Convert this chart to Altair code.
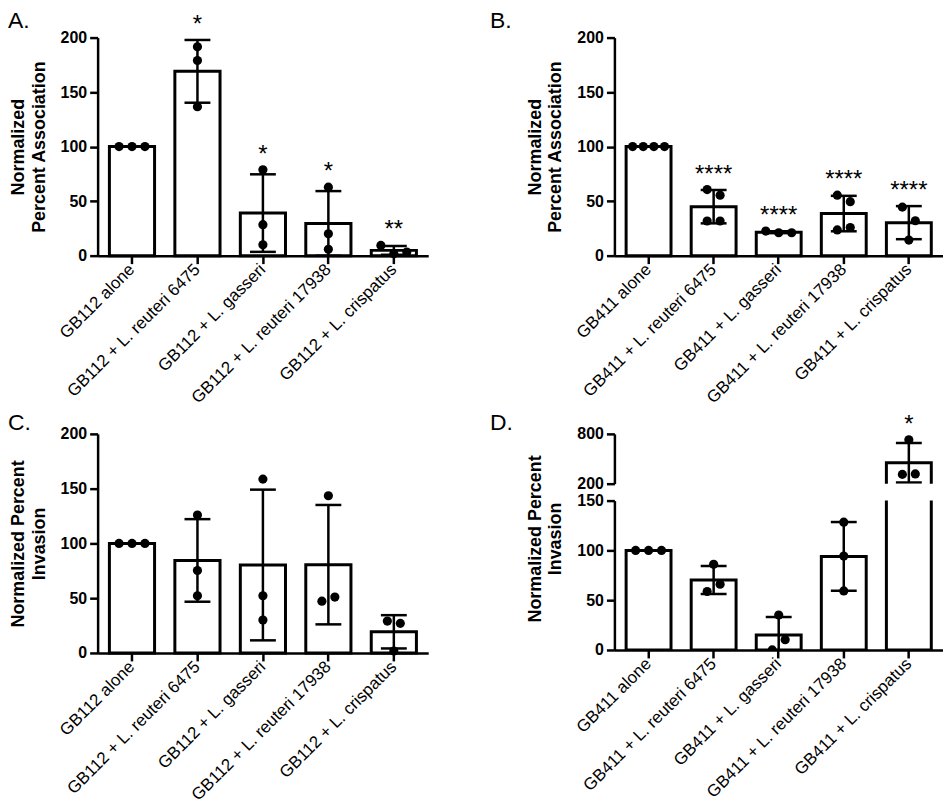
import altair as alt
import pandas as pd

# ---------------- data ----------------
cats_112 = ["GB112 alone", "GB112 + L. reuteri 6475", "GB112 + L. gasseri",
            "GB112 + L. reuteri 17938", "GB112 + L. crispatus"]
cats_411 = ["GB411 alone", "GB411 + L. reuteri 6475", "GB411 + L. gasseri",
            "GB411 + L. reuteri 17938", "GB411 + L. crispatus"]

a_vals = [[100, 100, 100], [191.5, 179, 136.6], [78.7, 28.4, 10], [62.8, 20, 5.8], [9.4, 1.8, 3.3]]
b_vals = [[100, 100, 100, 100], [60.6, 55.5, 31.8, 31.8], [22.5, 21, 21], [55.5, 49.5, 23.6, 25.8], [44.5, 32, 14.3]]
c_vals = [[100, 100, 100], [125.9, 75.3, 52.2], [158.7, 52.2, 30], [143.5, 47.3, 51], [29.1, 27, 1.8]]
d_vals = [[100, 100, 100], [86, 58.7, 66], [35, 0, 10.3], [128.3, 94.3, 59.3], [728, 312, 318]]

a_stars = ["", "*", "*", "*", "**"]
b_stars = ["", "****", "****", "****", "****"]
c_stars = ["", "", "", "", ""]
d_stars = ["", "", "", "", "*"]

FONT = "Liberation Sans"
DOT_GAP = 13  # px between neighbouring dots


def dot_offsets(vals, thresh):
    """spread overlapping dots sideways (in dot-spacing units)"""
    n = len(vals)
    order = sorted(range(n), key=lambda i: vals[i])
    clusters, cur = [], [order[0]]
    for i in order[1:]:
        if vals[i] - vals[cur[-1]] < thresh:
            cur.append(i)
        else:
            clusters.append(cur)
            cur = [i]
    clusters.append(cur)
    off = [0.0] * n
    for cl in clusters:
        cl = sorted(cl)
        k = len(cl)
        g = 1.0 if k <= 3 else 0.82
        for j, i in enumerate(cl):
            off[i] = round((j - (k - 1) / 2) * g, 3)
    return off


def make_df(cats, vals, stars, thresh):
    rows = []
    for c, vs, s in zip(cats, vals, stars):
        for v, o in zip(vs, dot_offsets(vs, thresh)):
            rows.append({"cat": c, "v": v, "off": o, "star": s})
    return pd.DataFrame(rows)


def layers(df, cats, ydom, yticks, height, width, ytitle, letter, lx, ly,
           show_x=True, clip=False, title_y=None, show_stars=True):
    xscale = alt.Scale(domain=cats, paddingInner=0.31, paddingOuter=0.18)
    if show_x:
        xaxis = alt.Axis(title=None, labelAngle=315, labelAlign="right", labelBaseline="middle",
                         labelFontSize=17, labelFont=FONT, labelColor="black", labelPadding=3,
                         tickSize=8, tickWidth=2.5, tickColor="black",
                         domainWidth=2.5, domainColor="black", labelLimit=400)
    else:
        xaxis = None
    x = alt.X("cat:N", sort=cats, scale=xscale, axis=xaxis)
    yaxis_kw = dict(values=yticks, grid=False, labelFontSize=16, labelFontWeight="bold",
                    labelFont=FONT, labelColor="black", labelPadding=3,
                    tickSize=8, tickWidth=2.5, tickColor="black",
                    domainWidth=2.5, domainColor="black",
                    titleFontSize=18, titleFontWeight="bold", titleFont=FONT,
                    titleColor="black", titlePadding=12, titleLineHeight=21)
    if title_y is not None:
        yaxis_kw["titleY"] = title_y
    ttl = ytitle if ytitle else None
    yaxis = alt.Axis(title=ttl, **yaxis_kw)
    yscale = alt.Scale(domain=ydom, nice=False, zero=False)

    base = alt.Chart(df)
    bars = base.mark_bar(fill="white", stroke="black", strokeWidth=3, clip=clip).encode(
        x=x, y=alt.Y("mean(v):Q", scale=yscale, axis=yaxis), y2=alt.datum(0))

    stats = base.transform_aggregate(
        m="mean(v)", s="stdev(v)", mx="max(v)", groupby=["cat", "star"]
    ).transform_calculate(lo="datum.m - datum.s", hi="datum.m + datum.s",
                          top="max(datum.m + datum.s, datum.mx)")
    rule = stats.mark_rule(color="black", strokeWidth=2.5, clip=clip).encode(
        x=x, y=alt.Y("lo:Q", scale=yscale, title=ttl), y2="hi:Q")
    tick_hi = stats.mark_tick(color="black", size=26, thickness=2.5, clip=clip, opacity=1).encode(
        x=x, y=alt.Y("hi:Q", scale=yscale, title=ttl))
    tick_lo = stats.mark_tick(color="black", size=26, thickness=2.5, clip=clip, opacity=1).encode(
        x=x, y=alt.Y("lo:Q", scale=yscale, title=ttl))
    parts = [bars, rule, tick_hi, tick_lo]

    for o in sorted(df["off"].unique()):
        parts.append(
            base.transform_filter(f"datum.off == {o}").mark_circle(
                size=85, color="black", opacity=1, clip=clip, xOffset=float(o) * DOT_GAP
            ).encode(x=x, y=alt.Y("v:Q", scale=yscale, title=ttl))
        )

    if show_stars:
        st = stats.transform_filter("datum.star != ''").mark_text(
            fontSize=24, font=FONT, color="black", dy=-15, baseline="middle"
        ).encode(x=x, y=alt.Y("top:Q", scale=yscale, title=ttl), text="star:N")
        parts.append(st)
    lab = alt.Chart(pd.DataFrame({"t": [letter]})).mark_text(
        fontSize=23, font=FONT, color="black", align="left", baseline="alphabetic"
    ).encode(x=alt.value(lx), y=alt.value(ly), text="t:N")
    parts.append(lab)
    return alt.layer(*parts).properties(width=width, height=height)


dfa = make_df(cats_112, a_vals, a_stars, 12)
dfb = make_df(cats_411, b_vals, b_stars, 13)
dfc = make_df(cats_112, c_vals, c_stars, 12)
dfd = make_df(cats_411, d_vals, d_stars, 12)

A = layers(dfa, cats_112, [0, 200], [0, 50, 100, 150, 200], 219, 332,
           ["Normalized", "Percent Association"], "A.", -90, -10)
B = layers(dfb, cats_411, [0, 200], [0, 50, 100, 150, 200], 219, 330,
           ["Normalized", "Percent Association"], "B.", -125, -10)
C = layers(dfc, cats_112, [0, 200], [0, 50, 100, 150, 200], 220, 332,
           ["Normalized Percent", "Invasion"], "C.", -90, -4, show_stars=False)
D_up = layers(dfd, cats_411, [200, 800], [200, 800], 50, 330,
              None, "D.", -125, -4, show_x=False, clip=True)
D_low = layers(dfd, cats_411, [0, 150], [0, 50, 100, 150], 150, 330,
               ["Normalized Percent", "Invasion"], "", 0, 0, clip=True, title_y=38,
               show_stars=False)

D = alt.vconcat(D_up, D_low, spacing=17, bounds="flush")
row1 = alt.hconcat(alt.vconcat(A), alt.vconcat(B), spacing=62)
row2 = alt.hconcat(alt.vconcat(C), D, spacing=62)

chart = alt.vconcat(row1, row2, spacing=5).properties(
    padding={"left": 0, "top": 0, "right": 0, "bottom": 0}
).configure(font=FONT).configure_view(stroke=None)

chart.save("out.html", embed_options={"renderer": "svg", "actions": False})
